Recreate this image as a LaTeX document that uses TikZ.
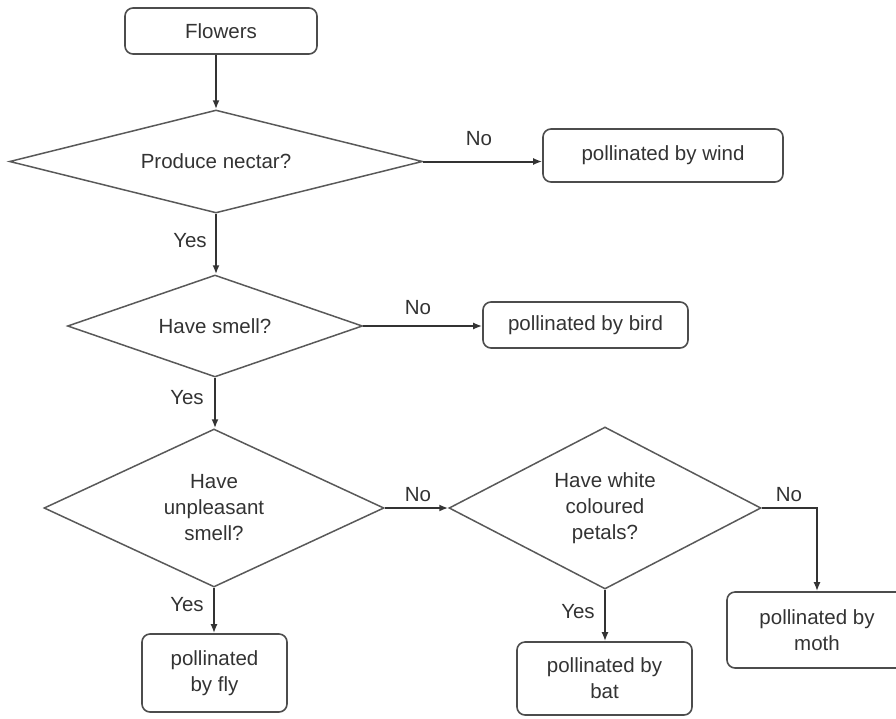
\documentclass[tikz,border=0pt]{standalone}
\usepackage{fontspec}
\setmainfont{Liberation Sans}
\usetikzlibrary{shapes.geometric,arrows.meta}
\tikzset{
  box/.style={draw=black!70, line width=1.6pt, rounded corners=8pt, align=center, inner sep=0pt, text=black!80},
  query/.style={draw=black!65, line width=1.5pt, diamond, align=center, inner sep=0pt, text=black!80},
  link/.style={draw=black!80, line width=2pt, -{Latex[length=9pt,width=7pt]}},
  tag/.style={text=black!80, inner sep=0pt}
}
\begin{document}
\begin{tikzpicture}[x=1pt,y=-1pt,font=\fontsize{20.5}{26}\selectfont]
  \useasboundingbox (0,0) rectangle (896,718);
  % start
  \node[box, minimum width=192pt, minimum height=46pt] (flowers) at (221,31) {Flowers};
  % questions
  \node[query, shape aspect=4, minimum width=413pt, minimum height=103pt] (nectar) at (216,161.5) {Produce nectar?};
  \node[query, shape aspect=2.9, minimum width=295pt, minimum height=102pt] (smell) at (215,326) {Have smell?};
  \node[query, shape aspect=2.15, minimum width=340pt, minimum height=158pt] (unpleasant) at (214,508) {Have\\unpleasant\\smell?};
  \node[query, shape aspect=1.93, minimum width=312pt, minimum height=162pt] (petals) at (605,508) {Have white\\coloured\\petals?};
  % answers
  \node[box, minimum width=240pt, minimum height=53pt] (wind) at (663,155.5) {pollinated by wind};
  \node[box, minimum width=205pt, minimum height=46pt] (bird) at (585.5,325) {pollinated by bird};
  \node[box, minimum width=145pt, minimum height=78pt] (fly) at (214.5,673) {pollinated\\by fly};
  \node[box, minimum width=175pt, minimum height=73pt] (bat) at (604.5,678.5) {pollinated by\\bat};
  \node[box, minimum width=180pt, minimum height=76pt] (moth) at (817,630) {pollinated by\\moth};
  % connectors
  \draw[link] (flowers.south -| nectar.north) -- (nectar.north);
  \draw[link] (nectar.east) -- (nectar.east -| wind.west);
  \draw[link] (nectar.south) -- (nectar.south |- smell.north);
  \draw[link] (smell.east) -- (smell.east -| bird.west);
  \draw[link] (smell.south) -- (smell.south |- unpleasant.north);
  \draw[link] (unpleasant.east) -- (petals.west);
  \draw[link] (unpleasant.south) -- (unpleasant.south |- fly.north);
  \draw[link] (petals.south) -- (petals.south |- bat.north);
  \draw[link] (petals.east) -| (moth.north);
  % labels
  \node[tag] (no1) at (479,139) {No};
  \node[tag] (yes1) at (190,241) {Yes};
  \node[tag] (no2) at (418,308) {No};
  \node[tag] (yes2) at (187,398) {Yes};
  \node[tag] (no3) at (418,495) {No};
  \node[tag] (yes3) at (187,605) {Yes};
  \node[tag] (yes4) at (578,612) {Yes};
  \node[tag] (no4) at (789,495) {No};
\end{tikzpicture}
\end{document}
